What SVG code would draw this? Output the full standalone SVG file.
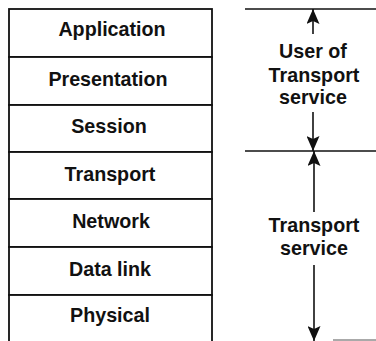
<svg xmlns="http://www.w3.org/2000/svg" width="376" height="341" viewBox="0 0 376 341">
  <style>
    .layer rect { fill: #ffffff; stroke: #111111; stroke-width: 1.8; }
    .lbl { font-family: "Liberation Sans", Arial, Helvetica, sans-serif; font-weight: bold; font-size: 19.7px; fill: #111111; text-anchor: middle; }
    .rule { stroke: #111111; stroke-width: 1.5; }
    .shaft { stroke: #111111; stroke-width: 1.6; fill: none; }
  </style>
  <defs>
    <marker id="head" viewBox="0 0 15 13" refX="15" refY="6.5" markerWidth="15" markerHeight="13" markerUnits="userSpaceOnUse" orient="auto">
      <path d="M0,0 L15,6.5 L0,13 L3,6.5 Z" fill="#111111"/>
    </marker>
  </defs>

  <rect x="0" y="0" width="376" height="341" fill="#ffffff"/>

  <!-- OSI layer stack -->
  <g id="application" class="layer">
    <rect x="9" y="9" width="203" height="48"/>
    <text class="lbl" x="112" y="36">Application</text>
  </g>
  <g id="presentation" class="layer">
    <rect x="9" y="57" width="203" height="48"/>
    <text class="lbl" x="108" y="86">Presentation</text>
  </g>
  <g id="session" class="layer">
    <rect x="9" y="105" width="203" height="47"/>
    <text class="lbl" x="109" y="133">Session</text>
  </g>
  <g id="transport" class="layer">
    <rect x="9" y="152" width="203" height="47"/>
    <text class="lbl" x="110" y="181">Transport</text>
  </g>
  <g id="network" class="layer">
    <rect x="9" y="199" width="203" height="48"/>
    <text class="lbl" x="111" y="228">Network</text>
  </g>
  <g id="datalink" class="layer">
    <rect x="9" y="247" width="203" height="48"/>
    <text class="lbl" x="110" y="276">Data link</text>
  </g>
  <g id="physical" class="layer">
    <rect x="9" y="295" width="203" height="52"/>
    <text class="lbl" x="110" y="322">Physical</text>
  </g>

  <!-- service boundary labels -->
  <g id="user-of-transport">
    <text class="lbl" x="313" y="58">User of</text>
    <text class="lbl" x="314" y="82">Transport</text>
    <text class="lbl" x="313" y="104">service</text>
  </g>
  <g id="transport-service">
    <text class="lbl" x="314" y="232">Transport</text>
    <text class="lbl" x="314" y="255">service</text>
  </g>

  <!-- boundary rules and dimension arrows -->
  <g id="connectors">
    <line class="rule" x1="245" y1="9" x2="376" y2="9"/>
    <line class="rule" x1="245" y1="151" x2="376" y2="151"/>
    <line x1="333" y1="340" x2="376" y2="340" stroke="#555555" stroke-width="1"/>
    <line class="shaft" x1="313" y1="34" x2="313" y2="9" marker-end="url(#head)"/>
    <line class="shaft" x1="313" y1="112" x2="313" y2="151" marker-end="url(#head)"/>
    <line class="shaft" x1="314" y1="212" x2="314" y2="151" marker-end="url(#head)"/>
    <line class="shaft" x1="314" y1="265" x2="314" y2="341" marker-end="url(#head)"/>
  </g>
</svg>
